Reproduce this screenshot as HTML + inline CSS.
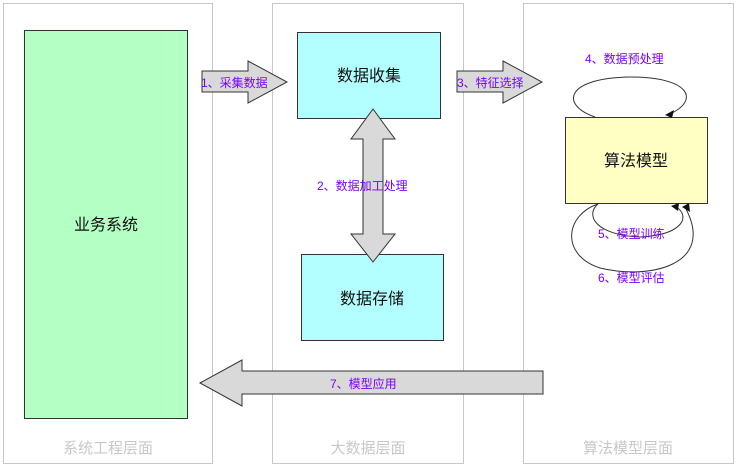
<!DOCTYPE html><html><head><meta charset="utf-8"><style>
body{margin:0;background:#fff;}
svg text{font-family:"Liberation Sans","Noto Sans CJK SC",sans-serif;}
</style></head><body>
<svg width="737" height="466" viewBox="0 0 737 466" xmlns="http://www.w3.org/2000/svg">
<g fill="#fff" stroke="#c8c8c8" stroke-width="1">
<rect x="3.5" y="3.5" width="209" height="460"/>
<rect x="272.5" y="3.5" width="191" height="460"/>
<rect x="523.5" y="3.5" width="210" height="460"/>
</g>
<g font-size="15" fill="#c8c8c8" text-anchor="middle">
<text x="108" y="453">系统工程层面</text>
<text x="368" y="453">大数据层面</text>
<text x="628" y="453">算法模型层面</text>
</g>
<g stroke="#333" stroke-width="1">
<rect x="24.5" y="30.5" width="163" height="388" fill="#b3ffc4"/>
<rect x="297.5" y="32.5" width="143" height="86" fill="#b3ffff"/>
<rect x="301.5" y="254.5" width="142" height="86" fill="#b3ffff"/>
<rect x="565.5" y="117.5" width="142" height="86" fill="#ffffc4"/>
</g>
<g font-size="16" fill="#111" text-anchor="middle">
<text x="106" y="230">业务系统</text>
<text x="369" y="81">数据收集</text>
<text x="372" y="304">数据存储</text>
<text x="636" y="166">算法模型</text>
</g>
<g fill="#d9d9d9" stroke="#333" stroke-width="1">
<polygon points="202,71 248,71 248,61 287,82 248,103 248,92 202,92"/>
<polygon points="457,71 503,71 503,61 542,82 503,103 503,92 457,92"/>
<polygon points="373,109 395,139 383,139 383,234 395,234 373,262 351,234 363,234 363,139 351,139"/>
<polygon points="200,383 242,360 242,371 543,371 543,394 242,394 242,406"/>
</g>
<g fill="none" stroke="#333" stroke-width="1">
<path d="M595,117 C560,105 565,78 630,77 C690,77 700,100 670,114"/>
<path d="M598,204 C585,215 595,235 640,237 C685,235 690,215 676,207"/>
<path d="M598,204 C565,215 560,255 600,268 C650,280 715,265 686,209"/>
</g>
<g fill="#111">
<polygon points="665,115 674,110 672,118"/>
<polygon points="671,206 679,203 678,211"/>
<polygon points="682,207 689,203 690,212"/>
</g>
<g font-size="12" fill="#7a00ff">
<text x="201" y="87">1、采集数据</text>
<text x="457" y="87">3、特征选择</text>
<text x="317" y="190">2、数据加工处理</text>
<text x="585" y="63">4、数据预处理</text>
<text x="598" y="238">5、模型训练</text>
<text x="598" y="282">6、模型评估</text>
<text x="330" y="388">7、模型应用</text>
</g>
</svg>
</body></html>
